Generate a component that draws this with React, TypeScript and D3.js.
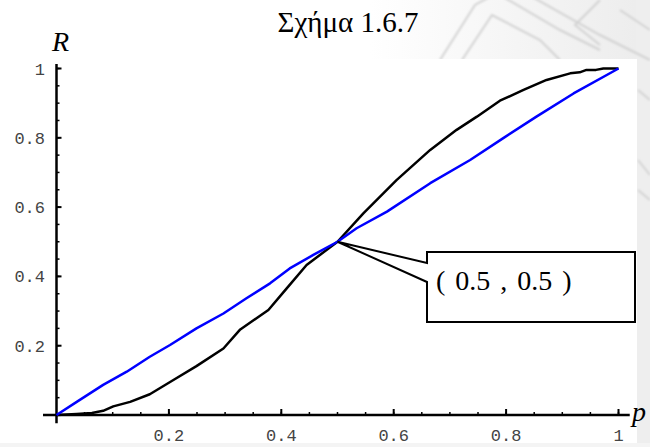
import React from "react";
import * as d3 from "d3";

// Simulated reliability curves R(p)
const pBlack = [0, 0.036, 0.063, 0.083, 0.101, 0.131, 0.166, 0.208, 0.249, 0.297, 0.327, 0.377, 0.41, 0.445, 0.5, 0.546, 0.605, 0.665, 0.712, 0.748, 0.789, 0.831, 0.872, 0.914, 0.931, 0.943, 0.96, 0.973, 1.0];
const rBlack = [0, 0.003, 0.006, 0.012, 0.025, 0.038, 0.06, 0.101, 0.141, 0.192, 0.247, 0.303, 0.366, 0.433, 0.5, 0.582, 0.678, 0.765, 0.823, 0.861, 0.907, 0.938, 0.967, 0.986, 0.989, 0.996, 0.996, 1.0, 1.0];

const pBlue = [0, 0.036, 0.083, 0.125, 0.166, 0.202, 0.249, 0.297, 0.338, 0.38, 0.415, 0.457, 0.5, 0.534, 0.588, 0.665, 0.736, 0.795, 0.854, 0.92, 1.0];
const rBlue = [0, 0.038, 0.087, 0.125, 0.168, 0.202, 0.25, 0.293, 0.337, 0.38, 0.423, 0.462, 0.5, 0.539, 0.587, 0.669, 0.736, 0.799, 0.861, 0.928, 1.0];

const majorTicks = [0.2, 0.4, 0.6, 0.8, 1];
const tickLabels = ["0.2", "0.4", "0.6", "0.8", "1"];
const minorTicks = d3.range(1, 21).map((i) => i * 0.05);

const fixedPoint = [0.5, 0.5];
const calloutText = "( 0.5 , 0.5 )";
const title = "Σχήμα 1.6.7";

const W = 650;
const H = 447;

const mono = "Liberation Mono, Courier New, DejaVu Sans Mono, monospace";
const serif = "Liberation Serif, Times New Roman, DejaVu Serif, serif";

export default function App() {
  const x = d3.scaleLinear().domain([0, 1]).range([56.5, 618.5]);
  const y = d3.scaleLinear().domain([0, 1]).range([415, 68.5]);

  const line = d3
    .line<[number, number]>()
    .x((d) => x(d[0]))
    .y((d) => y(d[1]));

  const black = pBlack.map((p, i) => [p, rBlack[i]] as [number, number]);
  const blue = pBlue.map((p, i) => [p, rBlue[i]] as [number, number]);

  const tipX = x(fixedPoint[0]);
  const tipY = y(fixedPoint[1]);
  const bx0 = 427, bx1 = 635, by0 = 252, by1 = 322;
  const bubble = `M${tipX},${tipY} L${bx0},282 L${bx0},${by1} L${bx1},${by1} L${bx1},${by0} L${bx0},${by0} L${bx0},263 Z`;

  return (
    <svg
      width={W}
      height={H}
      style={{ position: "absolute", left: 0, top: 0, display: "block", background: "#fff" }}
    >
      <defs>
        <linearGradient id="bgfade" x1="0" y1="0" x2="1" y2="0">
          <stop offset="0" stopColor="#ffffff" />
          <stop offset="1" stopColor="#ececec" />
        </linearGradient>
        <filter id="soft">
          <feGaussianBlur stdDeviation="0.8" />
        </filter>
      </defs>

      {/* faint ornamental backdrop */}
      <rect x={370} y={0} width={280} height={60} fill="url(#bgfade)" />
      <rect x={636} y={0} width={14} height={H} fill="#eeeeee" />
      <rect x={0} y={443} width={W} height={4} fill="#f4f4f4" />
      <g stroke="#d2d2d2" strokeWidth={2} fill="none" filter="url(#soft)">
        <path d="M440,60 L475,5 L520,-20" />
        <path d="M462,60 L492,15 L540,40 L560,60" />
        <path d="M500,-5 L560,30 L600,50" />
        <path d="M520,-10 L600,35 L650,60" />
        <path d="M600,0 L575,25 L600,45" />
        <path d="M620,10 L650,30" />
        <path d="M638,90 L650,100" />
        <path d="M638,160 L650,175" />
        <path d="M638,190 L650,200" />
      </g>
      <rect x={8} y={59} width={629} height={384} fill="#fff" />

      {/* title */}
      <text x={348} y={32} textAnchor="middle" fontFamily={serif} fontSize={29} fill="#000">
        {title}
      </text>

      {/* axes */}
      <line x1={x(-0.024)} x2={x(1.02)} y1={y(0)} y2={y(0)} stroke="#000" strokeWidth={2.5} />
      <line x1={x(0)} x2={x(0)} y1={y(-0.024)} y2={y(1.013)} stroke="#000" strokeWidth={2.5} />

      {minorTicks.map((t, i) => (
        <g key={"mn" + i} stroke="#000" strokeWidth={1.5}>
          <line x1={x(t)} x2={x(t)} y1={y(0)} y2={y(0) - 3} />
          <line x1={x(0)} x2={x(0) + 3} y1={y(t)} y2={y(t)} />
        </g>
      ))}
      {majorTicks.map((t, i) => (
        <g key={"mj" + i} stroke="#000" strokeWidth={2}>
          <line x1={x(t)} x2={x(t)} y1={y(0)} y2={y(0) - 6} />
          <line x1={x(0)} x2={x(0) + 5} y1={y(t)} y2={y(t)} />
        </g>
      ))}
      {majorTicks.map((t, i) => (
        <text key={"xl" + i} x={x(t)} y={441} textAnchor="middle" fontFamily={mono} fontSize={17} fill="#444">
          {tickLabels[i]}
        </text>
      ))}
      {majorTicks.map((t, i) => (
        <text key={"yl" + i} x={45} y={y(t) + 6} textAnchor="end" fontFamily={mono} fontSize={17} fill="#444">
          {tickLabels[i]}
        </text>
      ))}

      <text x={52} y={51} fontFamily={serif} fontStyle="italic" fontSize={28} fill="#000">
        R
      </text>
      <text x={632} y={421} fontFamily={serif} fontStyle="italic" fontSize={28} fill="#000">
        p
      </text>

      {/* curves */}
      <path d={line(black) ?? ""} fill="none" stroke="#000" strokeWidth={2.5} strokeLinejoin="round" />
      <path d={line(blue) ?? ""} fill="none" stroke="#0000ff" strokeWidth={2.5} strokeLinejoin="round" />

      {/* callout */}
      <path d={bubble} fill="#fff" stroke="#000" strokeWidth={2} strokeLinejoin="miter" />
      <text x={436} y={290} fontFamily={serif} fontSize={28} fill="#000" style={{ whiteSpace: "pre", wordSpacing: "3px" }}>
        {calloutText}
      </text>
    </svg>
  );
}
